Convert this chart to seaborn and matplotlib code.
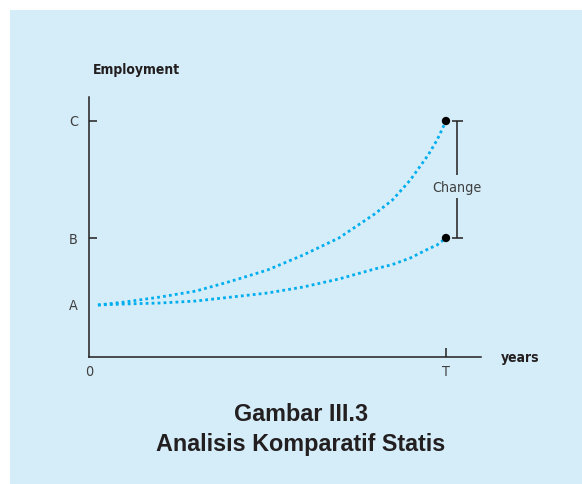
import numpy as np
import pandas as pd
import matplotlib
matplotlib.use("Agg")
import matplotlib.pyplot as plt
from matplotlib import font_manager
from matplotlib.font_manager import FontProperties
from matplotlib.patches import Rectangle
import seaborn as sns

# ---- data ----
T = 10.0
level_labels = ["A", "B", "C"]
level_values = [5.2, 11.9, 23.6]          # employment levels A, B, C
x_ticks = [0, T]
x_tick_labels = ["0", "T"]

years = [0.25, 1, 2, 3, 4, 5, 6, 7, 8, 8.5, 9, 9.5, 9.75, 10]
upper_path = [5.2, 5.5, 6.0, 6.6, 7.6, 8.7, 10.2, 11.9, 14.3, 15.7, 17.7, 20.2, 21.7, 23.6]
lower_path = [5.2, 5.3, 5.4, 5.6, 6.0, 6.4, 7.0, 7.8, 8.8, 9.25, 9.9, 10.8, 11.2, 11.9]

# ---- style ----
sns.set_theme(style="white")
plt.rcParams["font.family"] = ["Liberation Sans", "DejaVu Sans"]

STRETCH_NUM = {"ultra-condensed": 100, "extra-condensed": 200, "condensed": 300,
               "semi-condensed": 400, "normal": 500}


def stretch_of(f):
    s = f.stretch
    if isinstance(s, (int, float)):
        return int(s)
    s = str(s).lower()
    if s in STRETCH_NUM:
        return STRETCH_NUM[s]
    nm = f.name.lower()
    if "narrow" in nm or "condensed" in nm:
        return 300
    return 500


def weight_of(f):
    w = f.weight
    if isinstance(w, (int, float)):
        return int(w)
    w = str(w).lower()
    return {"light": 300, "normal": 400, "regular": 400, "book": 400, "medium": 500,
            "semibold": 600, "demibold": 600, "bold": 700, "heavy": 800,
            "black": 900}.get(w, 400)


def find_font(want_bold):
    cands = []
    for f in font_manager.fontManager.ttflist:
        if "italic" in str(f.style).lower() or "oblique" in str(f.style).lower():
            continue
        st = stretch_of(f)
        if st >= 500:
            continue
        w = weight_of(f)
        if want_bold and w < 650:
            continue
        if not want_bold and not (300 <= w <= 450):
            continue
        score = abs(st - 300) + (abs(w - 700) if want_bold else abs(w - 400)) / 10
        cands.append((score, f.fname))
    cands.sort()
    return cands[0][1] if cands else None


light_file = find_font(False)
bold_file = find_font(True)


def light_fp(s):
    if light_file:
        return FontProperties(fname=light_file, size=s)
    return FontProperties(family=["Liberation Sans", "DejaVu Sans"], size=s * 0.92)


def bold_fp(s):
    if bold_file:
        return FontProperties(fname=bold_file, size=s)
    return FontProperties(family=["Liberation Sans", "DejaVu Sans"], weight="bold", size=s * 0.92)


BG = "#d5edf9"
CURVE = "#00aeef"
DARK = "#231f20"
LIGHT = "#3f3f3f"
LIGHT_SIZE = 10.3
BOLD_SIZE = 10.0

fig = plt.figure(figsize=(5.82, 4.84), dpi=100, facecolor="white")
fig.patches.append(Rectangle((10 / 582, 0), 1 - 10 / 582, 1 - 10 / 484,
                             transform=fig.transFigure, facecolor=BG,
                             edgecolor="none", zorder=-10))

ax = fig.add_axes([89 / 582, (484 - 357) / 484, 392 / 582, 260 / 484])
ax.set_facecolor("none")

df = pd.DataFrame({"years": years, "upper": upper_path, "lower": lower_path})
dots = (0, (1, 1.15))
for col in ["upper", "lower"]:
    sns.lineplot(data=df, x="years", y=col, ax=ax, color=CURVE, lw=2.0,
                 linestyle=dots, sort=False)
    ax.lines[-1].set_dash_capstyle("butt")

end_df = pd.DataFrame({"years": [T, T], "emp": [level_values[2], level_values[1]]})
sns.scatterplot(data=end_df, x="years", y="emp", ax=ax, color="black",
                s=36, edgecolor="none", zorder=5)

# Change bracket
bx = 10.31
ax.vlines([bx, bx], [18.2, level_values[1]], [level_values[2], 15.9],
          color=DARK, lw=1.1)
ax.hlines([level_values[2], level_values[1]], 10.17, 10.48, color=DARK, lw=1.1)
ax.text(bx, 16.5, "Change", ha="center", va="baseline", color=LIGHT,
        fontproperties=light_fp(LIGHT_SIZE))

ax.set_xlim(0, 392 / 35.7)
ax.set_ylim(0, 26)
ax.set_xlabel("")
ax.set_ylabel("")

for side in ["top", "right"]:
    ax.spines[side].set_visible(False)
for side in ["left", "bottom"]:
    ax.spines[side].set_color(DARK)
    ax.spines[side].set_linewidth(1.1)

ax.set_yticks(level_values)
ax.set_yticklabels(level_labels)
ax.set_xticks(x_ticks)
ax.set_xticklabels(x_tick_labels)
ax.tick_params(axis="y", direction="in", length=5.8, width=1.1, color=DARK,
               pad=8, labelcolor=LIGHT, left=True)
ax.tick_params(axis="x", direction="in", length=6.5, width=1.1, color=DARK,
               pad=6, labelcolor=LIGHT, bottom=True)
for lab in ax.get_yticklabels() + ax.get_xticklabels():
    lab.set_fontproperties(light_fp(LIGHT_SIZE))
ax.yaxis.get_major_ticks()[0].tick1line.set_visible(False)
ax.xaxis.get_major_ticks()[0].tick1line.set_visible(False)

# axis titles
fig.text(93 / 582, 1 - 74 / 484, "Employment", ha="left", va="baseline",
         color=DARK, fontproperties=bold_fp(BOLD_SIZE))
fig.text(501 / 582, 1 - 362 / 484, "years", ha="left", va="baseline",
         color=DARK, fontproperties=bold_fp(BOLD_SIZE))

# caption
fig.text(301 / 582, 1 - 421 / 484, "Gambar III.3", ha="center", va="baseline",
         fontsize=16.8, fontweight="bold", color=DARK,
         family=["Liberation Sans", "DejaVu Sans"])
fig.text(301 / 582, 1 - 451 / 484, "Analisis Komparatif Statis", ha="center",
         va="baseline", fontsize=16.8, fontweight="bold", color=DARK,
         family=["Liberation Sans", "DejaVu Sans"])

fig.savefig("out.png", dpi=100, facecolor="white")
